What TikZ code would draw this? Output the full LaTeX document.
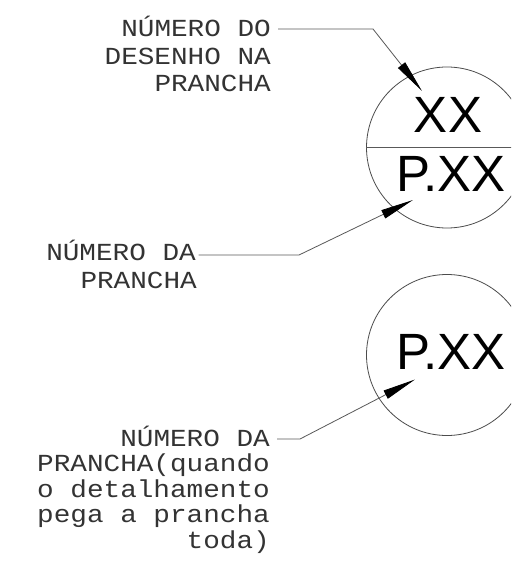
\documentclass[tikz,border=0pt]{standalone}
\usepackage{fontspec}
\setmainfont{Liberation Sans}
\newfontfamily\cadfont{Liberation Mono}[FakeStretch=1.13]
\usetikzlibrary{arrows.meta}
\tikzset{
  cad/.style={font=\cadfont\fontsize{24.5}{24.5}\selectfont, inner sep=0pt, anchor=base east, text=black!80},
  big/.style={font=\fontsize{51}{51}\selectfont, inner sep=0pt, anchor=base, text=black},
  ring/.style={circle, draw=black!70, line width=0.8pt, minimum size=161pt, inner sep=0pt},
  lead/.style={draw=black!65, line width=0.8pt, -{Triangle[length=33pt,width=9pt,color=black]}},
  rule/.style={draw=black!65, line width=0.8pt}
}
\begin{document}
\begin{tikzpicture}[x=1pt,y=-1pt]
\clip (0,0) rectangle (511,561);
\fill[white] (0,0) rectangle (511,561);
% circles
\node[ring] (c1) at (447,147.5) {};
\node[ring] (c2) at (447,355) {};
\draw[rule] (c1.west) -- (c1.east);
\node[big] (xx) at (448,133) {XX};
\node[big] (px1) at (451,192) {P.XX};
\node[big] (px2) at (451,369) {P.XX};
% label 1
\node[cad] (l1a) at (271,37) {NÚMERO DO};
\node[cad] (l1b) at (271,64.5) {DESENHO NA};
\node[cad] (l1c) at (271,92) {PRANCHA};
% label 2
\node[cad] (l2a) at (196,260) {NÚMERO DA};
\node[cad] (l2b) at (197,288) {PRANCHA};
% label 3
\node[cad] (l3a) at (270,446) {NÚMERO DA};
\node[cad] (l3b) at (270,471.5) {PRANCHA(quando};
\node[cad] (l3c) at (270,497) {o detalhamento};
\node[cad] (l3d) at (270,522.5) {pega a prancha};
\node[cad] (l3e) at (270,548) {toda)};
% leader points
\coordinate (s1) at (278,29);
\coordinate (b1) at (373,29);
\coordinate (t1) at (422,91);
\coordinate (s2) at (198.5,255);
\coordinate (b2) at (299,255);
\coordinate (t2) at (413,200);
\coordinate (s3) at (277,439);
\coordinate (b3) at (300,439);
\coordinate (t3) at (415,379.5);
\draw[lead] (s1) -- (b1) -- (t1);
\draw[lead] (s2) -- (b2) -- (t2);
\draw[lead] (s3) -- (b3) -- (t3);
\end{tikzpicture}
\end{document}
